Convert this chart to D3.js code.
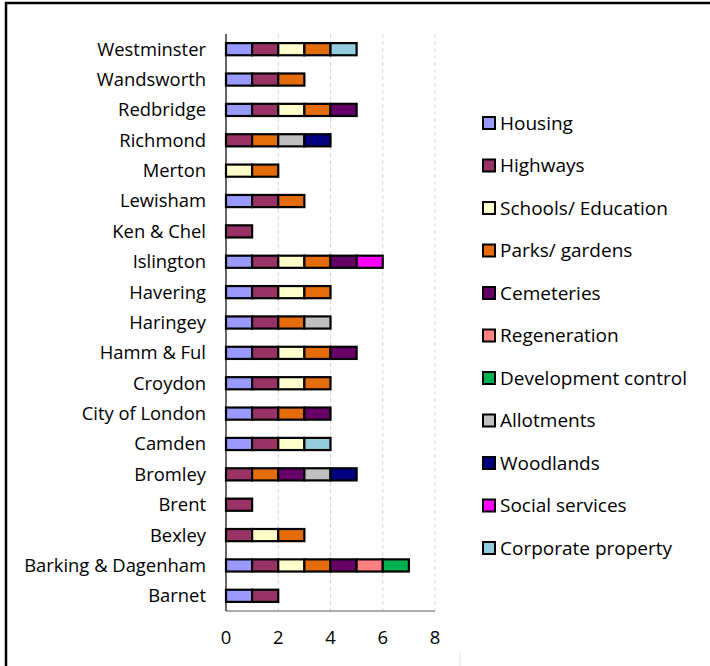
<!DOCTYPE html>
<html>
<head>
<meta charset="utf-8">
<script src="https://cdn.jsdelivr.net/npm/d3@7"></script>
<style>
  body { margin: 0; background: #fff; }
  svg text { font-family: "Open Sans", Lato, sans-serif; fill: #000; }
</style>
</head>
<body>
<div id="container"></div>
<script>
// Boroughs, bottom to top as they appear on the chart
const boroughs = ['Barnet', 'Barking & Dagenham', 'Bexley', 'Brent', 'Bromley', 'Camden',
  'City of London', 'Croydon', 'Hamm & Ful', 'Haringey', 'Havering', 'Islington',
  'Ken & Chel', 'Lewisham', 'Merton', 'Richmond', 'Redbridge', 'Wandsworth', 'Westminster'];

const seriesNames = ['Housing', 'Highways', 'Schools/ Education', 'Parks/ gardens', 'Cemeteries',
  'Regeneration', 'Development control', 'Allotments', 'Woodlands', 'Social services', 'Corporate property'];

const seriesColors = ['#9999ff', '#993366', '#ffffcc', '#e46c0a', '#660066',
  '#ff8080', '#00b050', '#c0c0c0', '#000080', '#ff00ff', '#93cddd'];

// one value per borough (same order as boroughs)
const housing      = [1,1,0,0,0,1,1,1,1,1,1,1,0,1,0,0,1,1,1];
const highways     = [1,1,1,1,1,1,1,1,1,1,1,1,1,1,0,1,1,1,1];
const schools      = [0,1,1,0,0,1,0,1,1,0,1,1,0,0,1,0,1,0,1];
const parks        = [0,1,1,0,1,0,1,1,1,1,1,1,0,1,1,1,1,1,1];
const cemeteries   = [0,1,0,0,1,0,1,0,1,0,0,1,0,0,0,0,1,0,0];
const regeneration = [0,1,0,0,0,0,0,0,0,0,0,0,0,0,0,0,0,0,0];
const devControl   = [0,1,0,0,0,0,0,0,0,0,0,0,0,0,0,0,0,0,0];
const allotments   = [0,0,0,0,1,0,0,0,0,1,0,0,0,0,0,1,0,0,0];
const woodlands    = [0,0,0,0,1,0,0,0,0,0,0,0,0,0,0,1,0,0,0];
const social       = [0,0,0,0,0,0,0,0,0,0,0,1,0,0,0,0,0,0,0];
const corporate    = [0,0,0,0,0,1,0,0,0,0,0,0,0,0,0,0,0,0,1];

const xTicks = [0, 2, 4, 6, 8];

const seriesValues = [housing, highways, schools, parks, cemeteries, regeneration,
  devControl, allotments, woodlands, social, corporate];

const width = 710, height = 666;

const svg = d3.select('#container').append('svg')
  .attr('width', width)
  .attr('height', height);

// outer frame (runs off the top-right of the picture)
svg.append('rect')
  .attr('x', 6).attr('y', 3)
  .attr('width', 720).attr('height', 700)
  .attr('fill', 'none')
  .attr('stroke', '#000')
  .attr('stroke-width', 2.5);

// table for d3.stack
const rows = boroughs.map((b, i) => {
  const row = { borough: b };
  seriesNames.forEach((s, j) => row[s] = seriesValues[j][i]);
  return row;
});

const stacked = d3.stack().keys(seriesNames)(rows);

const plotTop = 34, plotBottom = 611;
const x = d3.scaleLinear().domain([0, 8]).range([226, 435]);
const y = d3.scaleBand()
  .domain(boroughs.slice().reverse())
  .range([plotTop, plotBottom])
  .paddingInner(0.6)
  .paddingOuter(0.3);

const color = d3.scaleOrdinal().domain(seriesNames).range(seriesColors);

// gridlines
svg.append('g')
  .selectAll('line')
  .data(xTicks.filter(t => t > 0))
  .join('line')
  .attr('x1', d => x(d)).attr('x2', d => x(d))
  .attr('y1', plotTop).attr('y2', plotBottom)
  .attr('stroke', '#d9d9d9')
  .attr('stroke-dasharray', '4,3');

// bars
const layers = svg.append('g')
  .selectAll('g')
  .data(stacked)
  .join('g')
  .attr('fill', d => color(d.key));

layers.selectAll('rect')
  .data(d => d.filter(s => s[1] - s[0] > 0))
  .join('rect')
  .attr('x', d => x(d[0]))
  .attr('y', d => y(d.data.borough))
  .attr('width', d => x(d[1]) - x(d[0]))
  .attr('height', y.bandwidth())
  .attr('stroke', '#000')
  .attr('stroke-width', 2.2);

// y axis
svg.append('line')
  .attr('x1', x(0)).attr('x2', x(0))
  .attr('y1', plotTop).attr('y2', plotBottom)
  .attr('stroke', '#000')
  .attr('stroke-width', 1.2);

svg.append('g')
  .selectAll('text')
  .data(boroughs)
  .join('text')
  .attr('x', x(0) - 20)
  .attr('y', d => y(d) + y.bandwidth() / 2)
  .attr('dy', '0.35em')
  .attr('text-anchor', 'end')
  .attr('font-size', 18.4)
  .text(d => d);

// x axis
svg.append('line')
  .attr('x1', x(0)).attr('x2', x(8))
  .attr('y1', plotBottom).attr('y2', plotBottom)
  .attr('stroke', '#595959')
  .attr('stroke-width', 1.2);

svg.append('g')
  .selectAll('text')
  .data(xTicks)
  .join('text')
  .attr('x', d => x(d))
  .attr('y', 638)
  .attr('dy', '0.35em')
  .attr('text-anchor', 'middle')
  .attr('font-size', 18.4)
  .text(d => d);

// legend
const legend = svg.append('g')
  .selectAll('g')
  .data(seriesNames)
  .join('g')
  .attr('transform', (d, i) => `translate(483, ${123 + i * 42.5})`);

legend.append('rect')
  .attr('x', 0).attr('y', -6)
  .attr('width', 12).attr('height', 12)
  .attr('fill', d => color(d))
  .attr('stroke', '#000')
  .attr('stroke-width', 2);

legend.append('text')
  .attr('x', 17)
  .attr('dy', '0.35em')
  .attr('font-size', 19)
  .text(d => d);

// small stray mark below the axis
svg.append('line')
  .attr('x1', 460).attr('x2', 460)
  .attr('y1', 653).attr('y2', 666)
  .attr('stroke', '#e0e0e0');
</script>
</body>
</html>
